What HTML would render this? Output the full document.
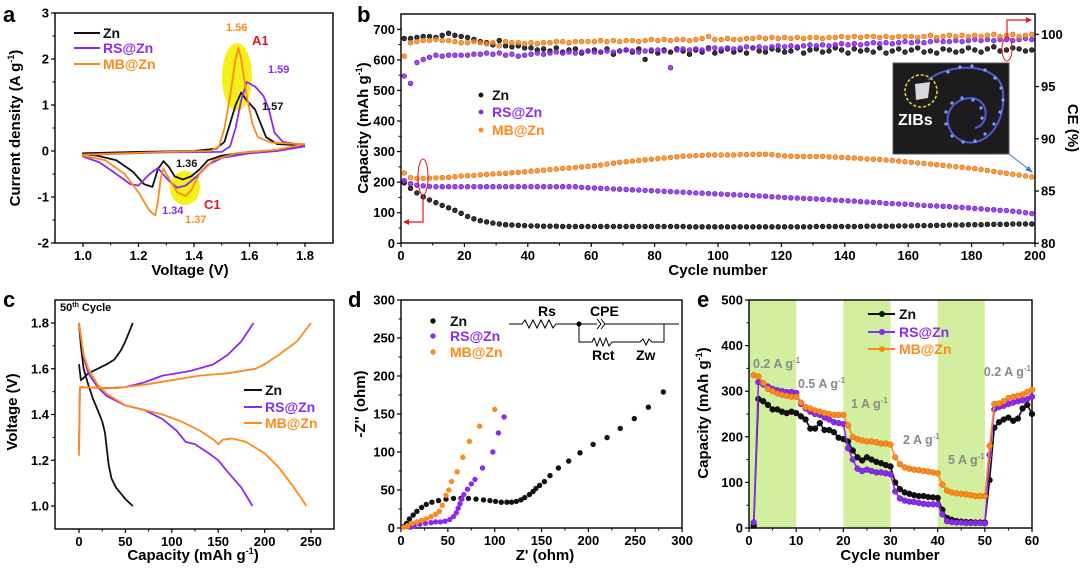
<!DOCTYPE html>
<html><head><meta charset="utf-8"><title>Zn battery figure</title>
<style>
html,body{margin:0;padding:0;background:#fff;}
svg{display:block;font-family:"Liberation Sans",Arial,sans-serif;font-weight:bold;}
</style></head>
<body>
<svg id="chart" width="1080" height="569" viewBox="0 0 1080 569" xmlns="http://www.w3.org/2000/svg"></svg>
<script>
// ---------- Panel a data (CV) ----------
const cvZnV=[1.8,1.7,1.6,1.5,1.45,1.42,1.39,1.36,1.33,1.31,1.29,1.27,1.25,1.22,1.18,1.12,1.05,1.0,1.0,1.2,1.4,1.48,1.51,1.53,1.55,1.57,1.59,1.62,1.64,1.66,1.7,1.8];
const cvZnI=[0.1,0.02,-0.02,-0.1,-0.2,-0.4,-0.55,-0.62,-0.55,-0.35,-0.22,-0.4,-0.78,-0.72,-0.45,-0.2,-0.1,-0.07,-0.05,-0.02,0,0.05,0.2,0.6,1.0,1.27,1.1,0.9,0.6,0.3,0.15,0.12];
const cvRsV=[1.8,1.7,1.6,1.5,1.45,1.41,1.37,1.34,1.31,1.27,1.24,1.2,1.17,1.12,1.06,1.0,1.0,1.3,1.5,1.53,1.55,1.57,1.59,1.62,1.65,1.67,1.69,1.72,1.8];
const cvRsI=[0.1,0.0,-0.05,-0.15,-0.3,-0.55,-0.75,-0.8,-0.65,-0.37,-0.5,-0.75,-0.72,-0.5,-0.25,-0.12,-0.08,-0.03,-0.02,0.1,0.5,1.1,1.5,1.4,1.2,0.9,0.4,0.2,0.12];
const cvMbV=[1.8,1.7,1.55,1.47,1.42,1.39,1.37,1.34,1.31,1.29,1.28,1.27,1.26,1.24,1.2,1.15,1.08,1.0,1.0,1.3,1.46,1.49,1.51,1.53,1.55,1.56,1.57,1.59,1.61,1.63,1.68,1.8];
const cvMbI=[0.15,0.03,-0.05,-0.2,-0.5,-0.85,-0.98,-0.9,-0.6,-0.38,-0.6,-1.1,-1.4,-1.3,-0.9,-0.5,-0.2,-0.1,-0.08,-0.02,0,0.1,0.5,1.2,2.0,2.25,2.0,1.2,0.6,0.3,0.18,0.15];
const aXTicks=[1.0,1.2,1.4,1.6,1.8];
const aYTicks=[-2,-1,0,1,2,3];

// ---------- Panel b data (cycling, every 2 cycles: 1,3,...,199) ----------
const bCycles=[];for(let c=1;c<200;c+=2)bCycles.push(c);
const capZn=[198,180,165,152,142,133,124,116,108,98,88,80,74,70,66,63,61,60,59,58,
57,57,56,56,56,55,55,55,55,55,55,55,55,55,55,55,55,55,55,55,55,55,55,55,55,54,54,54,54,54,
54,54,54,54,54,54,54,54,54,54,54,54,54,54,54,55,55,55,55,55,55,55,55,56,56,56,56,56,57,57,
57,58,58,58,59,59,60,60,60,61,61,61,62,62,62,62,63,63,63,63];
const capRs=[205,195,190,188,186,185,185,185,185,185,185,185,185,185,185,185,185,185,185,185,185,185,185,185,185,185,185,185,
183,182,181,180,179,178,177,176,175,174,173,172,171,170,169,168,167,166,165,164,163,162,161,160,159,158,157,156,155,154,
152,151,150,149,148,147,146,145,144,143,141,140,139,138,136,135,134,133,131,130,129,128,127,125,124,123,122,121,120,118,
117,116,114,113,111,110,108,107,105,103,100,97];
const capMb=[230,215,212,212,213,214,215,216,218,220,221,222,224,225,227,228,229,231,232,234,236,237,239,241,243,245,246,248,250,252,
254,256,259,262,265,267,269,271,273,275,277,279,281,283,285,286,287,288,289,289,289,289,289,290,290,291,291,291,290,288,
286,285,284,284,284,284,284,283,282,281,280,279,277,276,275,274,272,271,269,267,265,263,261,259,257,255,253,251,249,246,
244,241,238,235,232,229,226,223,220,217];
const ceZn=[99.6,99.6,99.7,99.8,99.8,99.7,99.9,100.1,99.9,99.8,99.7,99.5,99.3,99.2,99.0,99.4,98.9,98.8,98.9,98.7,
98.7,98.5,98.6,98.4,98.7,98.3,98.5,98.6,98.2,98.4,98.5,98.3,98.6,98.1,98.4,98.5,98.3,98.6,97.6,98.4,
98.2,98.5,98.3,98.6,98.4,98.1,98.5,98.3,98.7,98.2,98.4,98.6,98.3,98.5,98.2,98.7,98.4,98.3,98.6,98.5,
98.3,98.4,98.7,98.2,98.5,98.6,98.3,98.4,98.7,98.5,98.2,98.6,98.4,98.5,98.3,98.7,98.2,98.4,98.6,98.3,
98.5,98.7,98.3,98.4,98.2,98.6,98.5,98.3,98.4,98.7,98.5,98.3,98.6,98.8,98.4,98.5,98.7,98.6,98.4,98.5];
const ceRs=[96.0,95.3,97.3,97.6,97.8,98.0,97.9,98.0,98.0,98.0,98.0,98.1,98.1,98.2,98.1,98.2,98.0,98.1,97.9,98.0,
98.1,98.2,98.1,98.2,98.3,98.2,98.3,98.2,98.3,98.4,98.3,98.3,98.4,98.3,98.4,98.5,98.4,98.3,98.4,98.5,
98.5,98.4,96.8,98.5,98.6,98.5,98.6,98.5,98.6,98.7,98.6,98.7,98.6,98.7,98.8,98.7,98.8,98.7,98.8,98.9,
98.8,98.9,98.8,98.9,99.0,98.9,99.0,98.9,99.0,99.1,99.0,99.1,99.0,99.1,99.2,99.1,99.2,99.1,99.2,99.3,
99.2,99.3,99.2,99.3,99.4,99.3,99.3,99.4,99.3,99.4,99.5,99.4,99.5,99.4,99.5,99.5,99.4,99.5,99.6,99.5];
const ceMb=[97.9,99.2,99.3,99.4,99.4,99.5,99.4,99.4,99.3,99.2,99.2,99.3,99.2,99.1,99.2,98.9,99.3,99.2,99.2,99.1,
99.2,99.1,99.2,99.2,99.3,99.3,99.2,99.3,99.3,99.3,99.3,99.4,99.3,99.4,99.3,99.4,99.4,99.3,99.4,99.5,
99.4,99.5,99.4,99.5,99.5,99.4,99.5,99.6,99.8,99.5,99.5,99.6,99.5,99.5,99.6,99.6,99.7,99.6,99.7,99.6,
99.7,99.6,99.7,99.6,99.7,99.7,99.6,99.7,99.7,99.8,99.7,99.8,99.7,99.8,99.8,99.7,99.8,99.7,99.8,99.8,
99.8,99.7,99.8,99.9,99.7,99.8,99.9,99.8,99.9,99.8,99.9,99.8,99.9,100.0,99.8,99.9,100.0,99.8,99.9,100.0];
const bXTicks=[0,20,40,60,80,100,120,140,160,180,200];
const bYTicks=[0,100,200,300,400,500,600,700];
const bY2Ticks=[80,85,90,95,100];

// ---------- Panel c data (GCD) ----------
const gZnDisQ=[0,2,5,10,15,20,25,28,30,32,35,40,50,58];
const gZnDisV=[1.8,1.7,1.6,1.53,1.47,1.42,1.37,1.32,1.25,1.18,1.12,1.08,1.03,1.0];
const gZnChQ=[0,2,5,10,20,30,38,45,50,58];
const gZnChV=[1.62,1.55,1.56,1.58,1.6,1.62,1.64,1.68,1.72,1.8];
const gRsDisQ=[0,5,10,20,30,50,70,90,105,115,125,140,150,160,175,187];
const gRsDisV=[1.8,1.65,1.58,1.52,1.48,1.44,1.42,1.38,1.33,1.28,1.27,1.23,1.2,1.15,1.08,1.0];
const gRsChQ=[0,1,30,50,70,90,120,145,160,175,188];
const gRsChV=[1.25,1.52,1.515,1.52,1.54,1.57,1.59,1.62,1.66,1.72,1.8];
const gMbDisQ=[0,5,10,20,30,50,70,90,110,130,145,150,155,165,180,200,215,230,245];
const gMbDisV=[1.8,1.66,1.6,1.53,1.49,1.44,1.42,1.4,1.37,1.33,1.29,1.27,1.29,1.295,1.28,1.23,1.17,1.09,1.0];
const gMbChQ=[0,1,40,70,100,130,160,190,200,215,235,250];
const gMbChV=[1.22,1.52,1.515,1.53,1.55,1.57,1.58,1.6,1.62,1.66,1.72,1.8];
const cXTicks=[0,50,100,150,200,250];
const cYTicks=[1.0,1.2,1.4,1.6,1.8];

// ---------- Panel d data (EIS) ----------
const eisZnRe=[3,6,9,13,17,22,27,33,40,48,56,64,72,80,88,95,101,107,113,118,123,128,132,137,141,144,148,153,159,168,179,191,205,220,234,249,264,280];
const eisZnIm=[2,6,12,17,22,27,31,34,36,38,39,39,39,38,37,36,35,34,34,34,35,37,40,44,48,52,56,61,69,79,88,99,110,119,131,144,159,179];
const eisRsRe=[10,14,20,26,32,37,42,47,52,56,59,61,63,65,67,71,75,79,87,98,104,110];
const eisRsIm=[1,3,5,6,7,8,8,9,11,15,20,26,32,38,44,51,58,64,79,100,125,146];
const eisMbRe=[3,7,12,17,22,27,32,37,41,44,48,51,54,60,66,73,84,100];
const eisMbIm=[1,3,6,8,10,12,15,18,22,30,43,50,61,74,93,114,134,156];
const dTicks=[0,50,100,150,200,250,300];

// ---------- Panel e data (rate) ----------
const rateCycles=[];for(let c=1;c<=60;c++)rateCycles.push(c);
const rateZn=[5,283,278,270,260,260,255,252,255,252,245,238,218,218,230,215,215,210,198,195,190,170,155,148,155,150,145,142,138,135,100,85,78,75,72,70,70,68,67,66,40,22,18,15,14,13,13,12,12,12,105,220,232,238,242,235,240,262,270,250];
const rateRs=[12,320,315,310,305,302,300,298,298,296,272,262,255,250,248,242,238,232,230,228,175,150,130,125,128,125,122,122,120,118,80,65,60,58,57,55,53,52,52,52,30,15,13,12,12,11,11,11,11,10,160,260,265,268,272,275,278,280,283,288];
const rateMb=[335,332,318,305,300,295,292,290,288,288,275,265,262,258,255,252,250,248,248,248,225,200,195,192,190,190,188,185,185,183,155,140,133,130,128,127,125,124,122,120,95,82,78,76,75,74,72,70,70,70,180,272,273,278,285,288,290,293,298,303];
const rateBands=[[0,10],[20,30],[40,50]];
const eXTicks=[0,10,20,30,40,50,60];
const eYTicks=[0,100,200,300,400,500];

// ---------- helpers ----------
const NS='http://www.w3.org/2000/svg';
const svg=document.getElementById('chart');
const BLK='#111',PUR='#8a2cf0',ORG='#ff8a1c';
function mk(tag,attrs,parent){const el=document.createElementNS(NS,tag);for(const k in attrs)el.setAttribute(k,attrs[k]);(parent||svg).appendChild(el);return el;}
function grp(name){const g=mk('g',{});


return g;}
function txt(x,y,s,attrs,parent){const t=mk('text',Object.assign({x:x,y:y},attrs||{}),parent);t.innerHTML=s;return t;}
function axes(g,L,T,R,B,xt,xm,yt,ym,fmtX,fmtY){
  const fr=mk('rect',{x:L,y:T,width:R-L,height:B-T,fill:'none',stroke:'#000','stroke-width':1.4},g);
  
  
  xt.forEach((v,i)=>{const x=xm(v);
    const tk=mk('line',{x1:x,y1:B,x2:x,y2:B+4,stroke:'#000','stroke-width':1.2},g);
    
    
    if(i<xt.length-1){const xh=(x+xm(xt[i+1]))/2;mk('line',{x1:xh,y1:B,x2:xh,y2:B+2.5,stroke:'#000','stroke-width':1},g);}
    const lb=txt(x,B+17,fmtX(v),{'text-anchor':'middle','font-size':13},g);
    
    
  });
  yt.forEach((v,i)=>{const y=ym(v);
    const tk=mk('line',{x1:L-4,y1:y,x2:L,y2:y,stroke:'#000','stroke-width':1.2},g);
    
    
    if(i<yt.length-1){const yh=(y+ym(yt[i+1]))/2;mk('line',{x1:L-2.5,y1:yh,x2:L,y2:yh,stroke:'#000','stroke-width':1},g);}
    const lb=txt(L-6,y+4.5,fmtY(v),{'text-anchor':'end','font-size':13},g);
    
    
  });
}
function poly(g,xs,ys,xm,ym,color,w){return mk('polyline',{points:xs.map((v,i)=>xm(v).toFixed(1)+','+ym(ys[i]).toFixed(1)).join(' '),fill:'none',stroke:color,'stroke-width':w||1.8,'stroke-linejoin':'round'},g);}
function ytitle(x,y,s,rot,g){return txt(x,y,s,{'text-anchor':'middle','font-size':15,transform:'rotate('+(rot||-90)+' '+x+' '+y+')'},g);}
const f1=v=>v.toFixed(1), f0=v=>String(v);
const SUP='<tspan font-size="9" dy="-6">-1</tspan><tspan dy="6">)</tspan>';

// ================= Panel a =================
(function(){
const g=grp('panel-a-cv');
const xa=v=>83+(v-1)*277.5, ya=i=>151-i*46;
const e1=mk('ellipse',{cx:237,cy:77,rx:15,ry:34,fill:'#f5ef1a'},g);


const e2=mk('ellipse',{cx:185,cy:188,rx:15,ry:17,fill:'#f5ef1a'},g);


axes(g,55,13,333,243,aXTicks,xa,aYTicks,ya,f1,f0);
const l1=poly(g,cvZnV,cvZnI,xa,ya,BLK);


const l2=poly(g,cvRsV,cvRsI,xa,ya,PUR);


const l3=poly(g,cvMbV,cvMbI,xa,ya,ORG);


const lt=txt(3,22,'a',{'font-size':22},g);


const yt=ytitle(20,128,'Current density (A g'+SUP,-90,g);


const xt=txt(190,275,'Voltage (V)',{'text-anchor':'middle','font-size':15},g);


[['Zn',BLK,33],['RS@Zn',PUR,48],['MB@Zn',ORG,64]].forEach(d=>{
  const ll=mk('line',{x1:74,y1:d[2],x2:100,y2:d[2],stroke:d[1],'stroke-width':2},g);
  
  
  const lx=txt(103,d[2]+5,d[0],{'font-size':14,fill:d[1]},g);
  
  
});
[['1.56',ORG,226,31],['A1','#e8141e',252,45],['1.59',PUR,268,73],['1.57',BLK,262,110],['1.36',BLK,176,167],['1.34',PUR,162,214],['1.37',ORG,185,223],['C1','#e8141e',204,209]].forEach(d=>{
  const an=txt(d[2],d[3],d[0],{'font-size':d[0].length===2?13:11,fill:d[1]},g);
  
  
});
})();

// ================= Panel b =================
(function(){
const g=grp('panel-b-cycling');
const xb=c=>401+c*3.17, yb=q=>243.3-q*0.3057, yr=ce=>243.3-(ce-80)*10.45;
axes(g,401,14,1035,243,bXTicks,xb,bYTicks,yb,f0,f0);
bY2Ticks.forEach(v=>{const y=yr(v);
  const tk=mk('line',{x1:1035,y1:y,x2:1039,y2:y,stroke:'#000','stroke-width':1.2},g);
  
  
  const lb=txt(1041,y+4.5,String(v),{'font-size':13},g);
  
  
});
const series=[[capZn,BLK,'#000',yb,'cap-zn'],[capRs,PUR,'#6a14c8',yb,'cap-rs'],[capMb,ORG,'#d96800',yb,'cap-mb'],[ceZn,BLK,'#000',yr,'ce-zn'],[ceRs,PUR,'#6a14c8',yr,'ce-rs'],[ceMb,ORG,'#d96800',yr,'ce-mb']];
series.forEach(s=>{
  const sg=mk('g',{},g);
  
  
  s[0].forEach((v,i)=>{
    const p=mk('circle',{cx:xb(bCycles[i]).toFixed(1),cy:s[3](v).toFixed(1),r:2.4,fill:s[1],stroke:s[2],'stroke-width':0.6,'fill-opacity':0.85},sg);
    
    
  });
});
// inset photo
const ph=mk('rect',{x:893,y:63,width:116,height:91,fill:'#1c1c1e',stroke:'#555','stroke-width':1},g);


mk('path',{d:'M928 80 C 950 62, 1000 62, 1003 92 C 1006 130, 980 150, 960 140 C 940 128, 945 100, 970 98 C 990 98, 990 125, 975 128',fill:'none',stroke:'#5a6cff','stroke-width':2,'stroke-opacity':0.8},g);
[[948,72],[960,67],[972,66],[985,70],[995,78],[1001,88],[1003,100],[1000,112],[994,124],[985,134],[975,141],[963,142],[952,136],[946,124],[946,112],[952,103],[962,98],[973,100],[981,108],[982,118]].forEach(p=>{
  const d=mk('circle',{cx:p[0],cy:p[1],r:1.6,fill:'#7fa0ff'},g);
  
  
});
mk('path',{d:'M915 84 L930 82 L928 98 L916 100 Z',fill:'#d8d8dc'},g);
const yc=mk('circle',{cx:921,cy:91,r:16,fill:'none',stroke:'#f0e020','stroke-width':1.5,'stroke-dasharray':'3 2'},g);


const zb=txt(898,125,'ZIBs',{'font-size':16,fill:'#fff'},g);


mk('line',{x1:1009,y1:154,x2:1031,y2:171,stroke:'#4a78d0','stroke-width':1},g);
mk('path',{d:'M1033 173 L1025 170 L1029 166 Z',fill:'#4a78d0'},g);
// red indicators
mk('ellipse',{cx:423,cy:177,rx:5,ry:18,fill:'none',stroke:'#e8141e','stroke-width':1},g);
mk('polyline',{points:'423,195 423,222 407,222',fill:'none',stroke:'#e8141e','stroke-width':1.2},g);
mk('path',{d:'M403 222 L409 219 L409 225 Z',fill:'#e8141e'},g);
mk('ellipse',{cx:1007,cy:49,rx:5,ry:12,fill:'none',stroke:'#e8141e','stroke-width':1},g);
mk('polyline',{points:'1007,37 1007,20 1028,20',fill:'none',stroke:'#e8141e','stroke-width':1.2},g);
mk('path',{d:'M1032 20 L1026 17 L1026 23 Z',fill:'#e8141e'},g);
[['Zn',BLK,95],['RS@Zn',PUR,112],['MB@Zn',ORG,130]].forEach(d=>{
  const m=mk('circle',{cx:481,cy:d[2],r:2.4,fill:d[1]},g);
  
  
  const lx=txt(492,d[2]+5,d[0],{'font-size':14,fill:d[1]},g);
  
  
});
const lt=txt(357,22,'b',{'font-size':22},g);


const yt=ytitle(368,128,'Capacity (mAh g'+SUP,-90,g);


const y2=ytitle(1068,128,'CE (%)',90,g);


const xt=txt(718,275,'Cycle number',{'text-anchor':'middle','font-size':15},g);


})();

// ================= Panel c =================
(function(){
const g=grp('panel-c-gcd');
const xc=q=>79+q*0.928, yc=v=>506-(v-1)*228.75;
axes(g,55,300,334,529,cXTicks,xc,cYTicks,yc,f0,f1);
[[gZnDisQ,gZnDisV,BLK,'gcd-zn-discharge'],[gZnChQ,gZnChV,BLK,'gcd-zn-charge'],[gRsDisQ,gRsDisV,PUR,'gcd-rs-discharge'],[gRsChQ,gRsChV,PUR,'gcd-rs-charge'],[gMbDisQ,gMbDisV,ORG,'gcd-mb-discharge'],[gMbChQ,gMbChV,ORG,'gcd-mb-charge']].forEach(s=>{
  const l=poly(g,s[0],s[1],xc,yc,s[2]);
  
  
});
const cy=txt(60,311,'50<tspan font-size="7" dy="-4">th</tspan><tspan dy="4"> Cycle</tspan>',{'font-size':11},g);


[['Zn',BLK,390],['RS@Zn',PUR,407],['MB@Zn',ORG,423]].forEach(d=>{
  const ll=mk('line',{x1:244,y1:d[2],x2:262,y2:d[2],stroke:d[1],'stroke-width':2},g);
  
  
  const lx=txt(265,d[2]+5,d[0],{'font-size':14,fill:d[1]},g);
  
  
});
const lt=txt(3,307,'c',{'font-size':22},g);


const yt=ytitle(17,412,'Voltage (V)',-90,g);


const xt=txt(193,560,'Capacity (mAh g'+SUP,{'text-anchor':'middle','font-size':15},g);


})();

// ================= Panel d =================
(function(){
const g=grp('panel-d-eis');
const xd=z=>401+z*0.937, yd=z=>528-z*0.76;
axes(g,401,300,682,528,dTicks,xd,dTicks,yd,f0,f0);
[[eisZnRe,eisZnIm,BLK,'eis-zn'],[eisRsRe,eisRsIm,PUR,'eis-rs'],[eisMbRe,eisMbIm,ORG,'eis-mb']].forEach(s=>{
  const sg=mk('g',{},g);
  
  
  s[0].forEach((v,i)=>{
    const p=mk('circle',{cx:xd(v).toFixed(1),cy:yd(s[1][i]).toFixed(1),r:2.7,fill:s[2]},sg);
    
    
  });
});
// equivalent circuit
const cg=mk('g',{fill:'none',stroke:'#000','stroke-width':1},g);


mk('polyline',{points:'509,324 522,324 525,320 529,328 533,320 537,328 541,320 545,328 549,320 553,328 556,324 597,324'},cg);
mk('path',{d:'M597 319 L601 324 L597 329 M601 319 L605 324 L601 329'},cg);
mk('polyline',{points:'605,324 679,324'},cg);
mk('polyline',{points:'579,324 579,342 592,342 594,338 597,346 600,338 603,346 606,338 609,346 612,342 640,342 643,339 646,345 649,339 652,342 664,342 664,324'},cg);
mk('circle',{cx:579,cy:324,r:2.5,fill:'#000'},g);
[['Rs',538,316],['CPE',590,316],['Rct',592,360],['Zw',636,360]].forEach(d=>{
  const t=txt(d[1],d[2],d[0],{'font-size':14},g);
  
  
});
[['Zn',BLK,321],['RS@Zn',PUR,336],['MB@Zn',ORG,352]].forEach(d=>{
  const m=mk('circle',{cx:433,cy:d[2],r:2.7,fill:d[1]},g);
  
  
  const lx=txt(450,d[2]+5,d[0],{'font-size':14,fill:d[1]},g);
  
  
});
const lt=txt(348,307,'d',{'font-size':22},g);


const yt=ytitle(365,404,"-Z'' (ohm)",-90,g);


const xt=txt(545,560,"Z' (ohm)",{'text-anchor':'middle','font-size':15},g);


})();

// ================= Panel e =================
(function(){
const g=grp('panel-e-rate');
const xe=c=>749+c*4.717, ye=q=>528-q*0.456;
rateBands.forEach(b=>{
  const r=mk('rect',{x:xe(b[0]),y:300,width:xe(b[1])-xe(b[0]),height:228,fill:'#d2ef9f'},g);
  
  
});
axes(g,749,300,1032,528,eXTicks,xe,eYTicks,ye,f0,f0);
[[rateZn,BLK,'#000','rate-zn'],[rateRs,PUR,'#5a10b0','rate-rs'],[rateMb,ORG,'#d06000','rate-mb']].forEach(s=>{
  const l=poly(g,rateCycles,s[0],xe,ye,s[1],1.6);
  
  
  s[0].forEach((v,i)=>{
    const p=mk('circle',{cx:xe(rateCycles[i]).toFixed(1),cy:ye(v).toFixed(1),r:2.9,fill:s[1],stroke:s[2],'stroke-width':0.5},g);
    
    
  });
});
[['0.2 A g',753,368,'start'],['0.5 A g',798,388,'start'],['1 A g',851,408,'start'],['2 A g',903,444,'start'],['5 A g',948,464,'start'],['0.2 A g',1031,376,'end']].forEach(d=>{
  const t=txt(d[1],d[2],d[0]+'<tspan font-size="8" dy="-5">-1</tspan>',{'font-size':12.5,fill:'#8a8a8a','text-anchor':d[3]},g);
  
  
});
[['Zn',BLK,314],['RS@Zn',PUR,332],['MB@Zn',ORG,349]].forEach(d=>{
  const ll=mk('line',{x1:868,y1:d[2],x2:895,y2:d[2],stroke:d[1],'stroke-width':2},g);
  
  
  const m=mk('circle',{cx:882,cy:d[2],r:3,fill:d[1]},g);
  
  
  const lx=txt(899,d[2]+5,d[0],{'font-size':14,fill:d[1]},g);
  
  
});
const lt=txt(697,307,'e',{'font-size':22},g);


const yt=ytitle(708,413,'Capacity (mAh g'+SUP,-90,g);


const xt=txt(890,560,'Cycle number',{'text-anchor':'middle','font-size':15},g);


})();
</script>
</body></html>
